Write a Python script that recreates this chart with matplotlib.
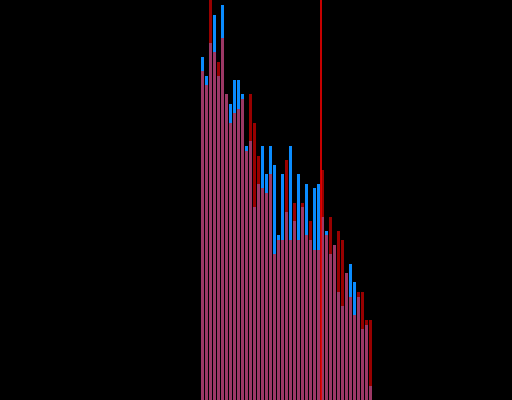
import numpy as np
import matplotlib
matplotlib.use("Agg")
import matplotlib.pyplot as plt

# counts per bin
blue_counts = [73, 69, 76, 82, 69, 84, 65, 63, 68, 68, 65, 54, 55, 41, 46,
               54, 48, 54, 50, 35, 48, 40, 54, 38, 48, 41, 46, 34, 45, 46,
               39, 36, 31, 33, 23, 20, 27, 29, 25, 22, 15, 16, 3]
red_counts = [70, 67, 88, 74, 72, 77, 65, 59, 61, 62, 64, 53, 65, 59, 52,
              45, 44, 48, 31, 34, 34, 51, 34, 42, 34, 42, 35, 38, 32, 32,
              49, 35, 39, 33, 36, 34, 27, 22, 18, 23, 23, 17, 17]
marker_x = 30


def draw_chart():
    fig = plt.figure(figsize=(5.12, 4.0), dpi=100, facecolor='black')
    ax = fig.add_axes([0, 0, 1, 1])
    ax.set_facecolor('black')

    centers = np.arange(len(blue_counts)) + 0.5
    ax.bar(centers, blue_counts, width=0.75, color='#0a8cff', linewidth=0)
    ax.bar(centers, red_counts, width=0.75, color='#ff0000', alpha=0.6, linewidth=0)
    ax.axvline(marker_x, color='#ee0000', linewidth=1.2)

    ax.set_xlim(-50.125, 77.875)
    ax.set_ylim(0, 85.1)
    ax.axis('off')

    fig.savefig('out.png', dpi=100, facecolor='black')


if __name__ == "__main__":
    draw_chart()
